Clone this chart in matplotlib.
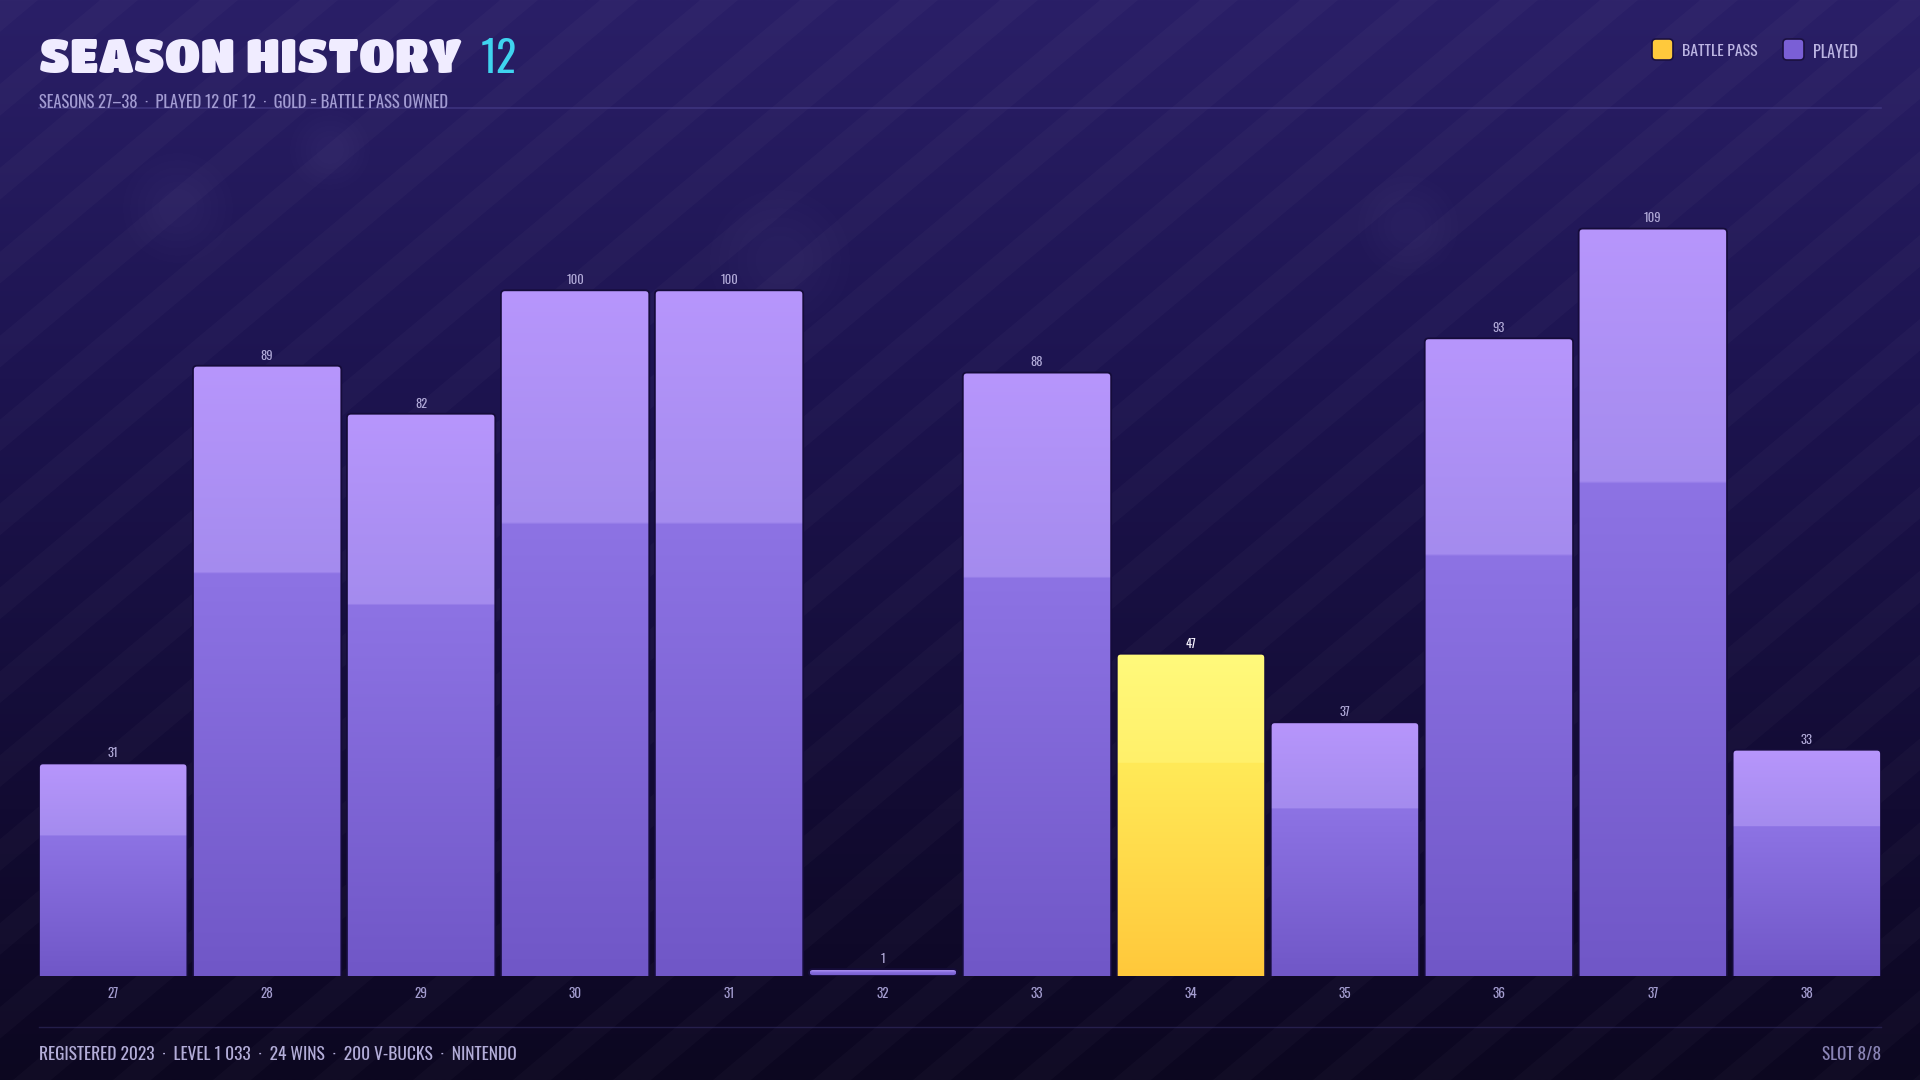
import numpy as np
import matplotlib
matplotlib.use("Agg")
import matplotlib.pyplot as plt
from matplotlib.patches import FancyBboxPatch, Polygon, Circle
from matplotlib.colors import to_rgb

# ---------------- data ----------------
seasons = ["27", "28", "29", "30", "31", "32", "33", "34", "35", "36", "37", "38"]
levels = [31, 89, 82, 100, 100, 1, 88, 47, 37, 93, 109, 33]
battle_pass = [False, False, False, False, False, False, False, True, False, False, False, False]

title_text = "SEASON HISTORY"
title_count = "12"
subtitle_text = "SEASONS 27\u201338  \u00b7  PLAYED 12 OF 12  \u00b7  GOLD = BATTLE PASS OWNED"
footer_left = "REGISTERED 2023  \u00b7  LEVEL 1 033  \u00b7  24 WINS  \u00b7  200 V-BUCKS  \u00b7  NINTENDO"
footer_right = "SLOT 8/8"
legend_labels = ["BATTLE PASS", "PLAYED"]

# ---------------- style ----------------
W, H = 1920, 1080
NARROW = ["Oswald", "DejaVu Sans"]
HEAVY = ["Titan One", "DejaVu Sans"]

fig = plt.figure(figsize=(W / 100, H / 100), dpi=100)
renderer = fig.canvas.get_renderer()

bg = fig.add_axes([0, 0, 1, 1])
bg.set_xlim(0, W)
bg.set_ylim(H, 0)
bg.axis("off")


def fit_text(t, target_w):
    """scale a text's font size so its rendered width matches target_w pixels"""
    w = t.get_window_extent(renderer=renderer).width
    if w > 0:
        t.set_fontsize(t.get_fontsize() * target_w / w)


# vertical gradient background
stops_y = np.array([0.0, 0.35, 0.75, 1.0])
stops_c = np.array([to_rgb("#2a1f67"), to_rgb("#1d1450"), to_rgb("#120b32"), to_rgb("#0c0720")])
yy = np.linspace(0, 1, 400)
grad = np.stack([np.interp(yy, stops_y, stops_c[:, k]) for k in range(3)], axis=1)
grad_img = np.repeat(grad[:, None, :], 2, axis=1)
bg.imshow(grad_img, extent=[0, W, H, 0], aspect="auto", zorder=0, interpolation="bilinear")

# diagonal stripes
ang = np.deg2rad(40)
dx = H / np.tan(ang)
for off in np.arange(-dx, W + 200, 100):
    w = 38
    poly = Polygon([[off, H], [off + w, H], [off + w + dx, 0], [off + dx, 0]],
                   closed=True, facecolor="#ffffff", alpha=0.024, edgecolor="none", zorder=1)
    bg.add_patch(poly)

# faint bokeh blobs
for (cx, cy, r) in [(178, 208, 55), (1408, 226, 50), (780, 260, 70), (330, 150, 40)]:
    for k in range(6):
        bg.add_patch(Circle((cx, cy), r * (1 - k * 0.13), facecolor="#b9a8ff", alpha=0.008,
                            edgecolor="none", zorder=1))

# header / footer lines
bg.plot([39, 1881], [108, 108], color="#4a4190", lw=1.2, alpha=0.6, zorder=2)
bg.plot([39, 1881], [1027, 1027], color="#3a3370", lw=1.0, alpha=0.5, zorder=2)

# title
t1 = bg.text(39, 73, title_text, fontsize=32, family=HEAVY,
             color="#f0ecff", ha="left", va="baseline", zorder=5)
fit_text(t1, 424)
t2 = bg.text(481, 73, title_count, fontsize=34, family=NARROW,
             color="#3fd4ef", ha="left", va="baseline", zorder=5)
fit_text(t2, 36)
t3 = bg.text(39, 107.5, subtitle_text, fontsize=12.5, family=NARROW, color="#a29bd2",
             ha="left", va="baseline", zorder=5)
fit_text(t3, 414)

# legend
leg_items = [(1652, "#ffc93c", legend_labels[0], 76), (1783, "#7a5fd6", legend_labels[1], 45)]
for x0, col, lab, tw in leg_items:
    bg.add_patch(FancyBboxPatch((x0, 39), 21, 21, boxstyle="round,pad=0,rounding_size=4",
                                facecolor=col, edgecolor="#1a1040", lw=1.2, zorder=5))
    lt = bg.text(x0 + 30, 52, lab, fontsize=12.5, family=NARROW, color="#bbb4e2",
                 ha="left", va="center", zorder=5)
    fit_text(lt, tw)

# footer
f1 = bg.text(39, 1055, footer_left, fontsize=15, family=NARROW, color="#b3add8",
             ha="left", va="center", zorder=5)
fit_text(f1, 475)
f2 = bg.text(1881, 1055, footer_right, fontsize=14, family=NARROW, color="#8a84b5",
             ha="right", va="center", zorder=5)
fit_text(f2, 59)

# ---------------- bar chart ----------------
ax_left, ax_right = 39, 1881
ax_top, ax_bottom = 130, 976
ax = fig.add_axes([ax_left / W, 1 - ax_bottom / H, (ax_right - ax_left) / W, (ax_bottom - ax_top) / H])
ax.patch.set_alpha(0)
ymax = (ax_bottom - ax_top) / 6.857
bar_w = 0.9636
xlim = (-bar_w / 2, len(seasons) - 1 + bar_w / 2)
ax.set_xlim(*xlim)
ax.set_ylim(0, ymax)
for s in ax.spines.values():
    s.set_visible(False)
ax.set_yticks([])
x = np.arange(len(seasons))
ax.set_xticks(x)
ax.set_xticklabels(seasons, family=NARROW, fontsize=9.5, color="#a49dd0")
ax.tick_params(axis="x", length=0, pad=8)

bars = ax.bar(x, levels, width=bar_w, color="none", edgecolor="none")

px_x = (xlim[1] - xlim[0]) / (ax_right - ax_left)
px_y = ymax / (ax_bottom - ax_top)
aspect = px_y / px_x
rsize = 4 * px_x


def bar_gradient(top_a, top_b, low_a, low_b, n=300, frac=0.34):
    t = np.linspace(0, 1, n)  # 0 = top, 1 = bottom
    a1, b1, a2, b2 = (np.array(to_rgb(c)) for c in (top_a, top_b, low_a, low_b))
    out = np.zeros((n, 3))
    for i, tv in enumerate(t):
        if tv < frac:
            f = tv / frac
            out[i] = a1 * (1 - f) + b1 * f
        else:
            f = (tv - frac) / (1 - frac)
            out[i] = a2 * (1 - f) + b2 * f
    return out[:, None, :].repeat(2, axis=1)


purple_grad = bar_gradient("#b796fc", "#a48bee", "#8d73e4", "#7057c7")
gold_grad = bar_gradient("#fffa7c", "#fff06a", "#ffea58", "#ffc83b")

for rect, v, bp in zip(bars, levels, battle_pass):
    x0 = rect.get_x()
    w = rect.get_width()
    h = rect.get_height()
    bottom = -1.0 if h > 3 else 0.0
    patch = FancyBboxPatch((x0, bottom), w, h - bottom,
                           boxstyle=f"round,pad=0,rounding_size={rsize}",
                           mutation_aspect=aspect, facecolor="none",
                           edgecolor="#150c3a", lw=1.3, zorder=4)
    ax.add_patch(patch)
    img = ax.imshow(gold_grad if bp else purple_grad, extent=[x0, x0 + w, 0, h],
                    aspect="auto", zorder=3, interpolation="bilinear")
    img.set_clip_path(patch)
    ax.text(x0 + w / 2, h + 0.6, str(v), ha="center", va="bottom",
            family=NARROW, fontsize=9,
            color="#f6f3ff" if bp else "#b1aad8", zorder=5)

ax.set_xlim(*xlim)
ax.set_ylim(0, ymax)

fig.savefig("out.png", dpi=100)
